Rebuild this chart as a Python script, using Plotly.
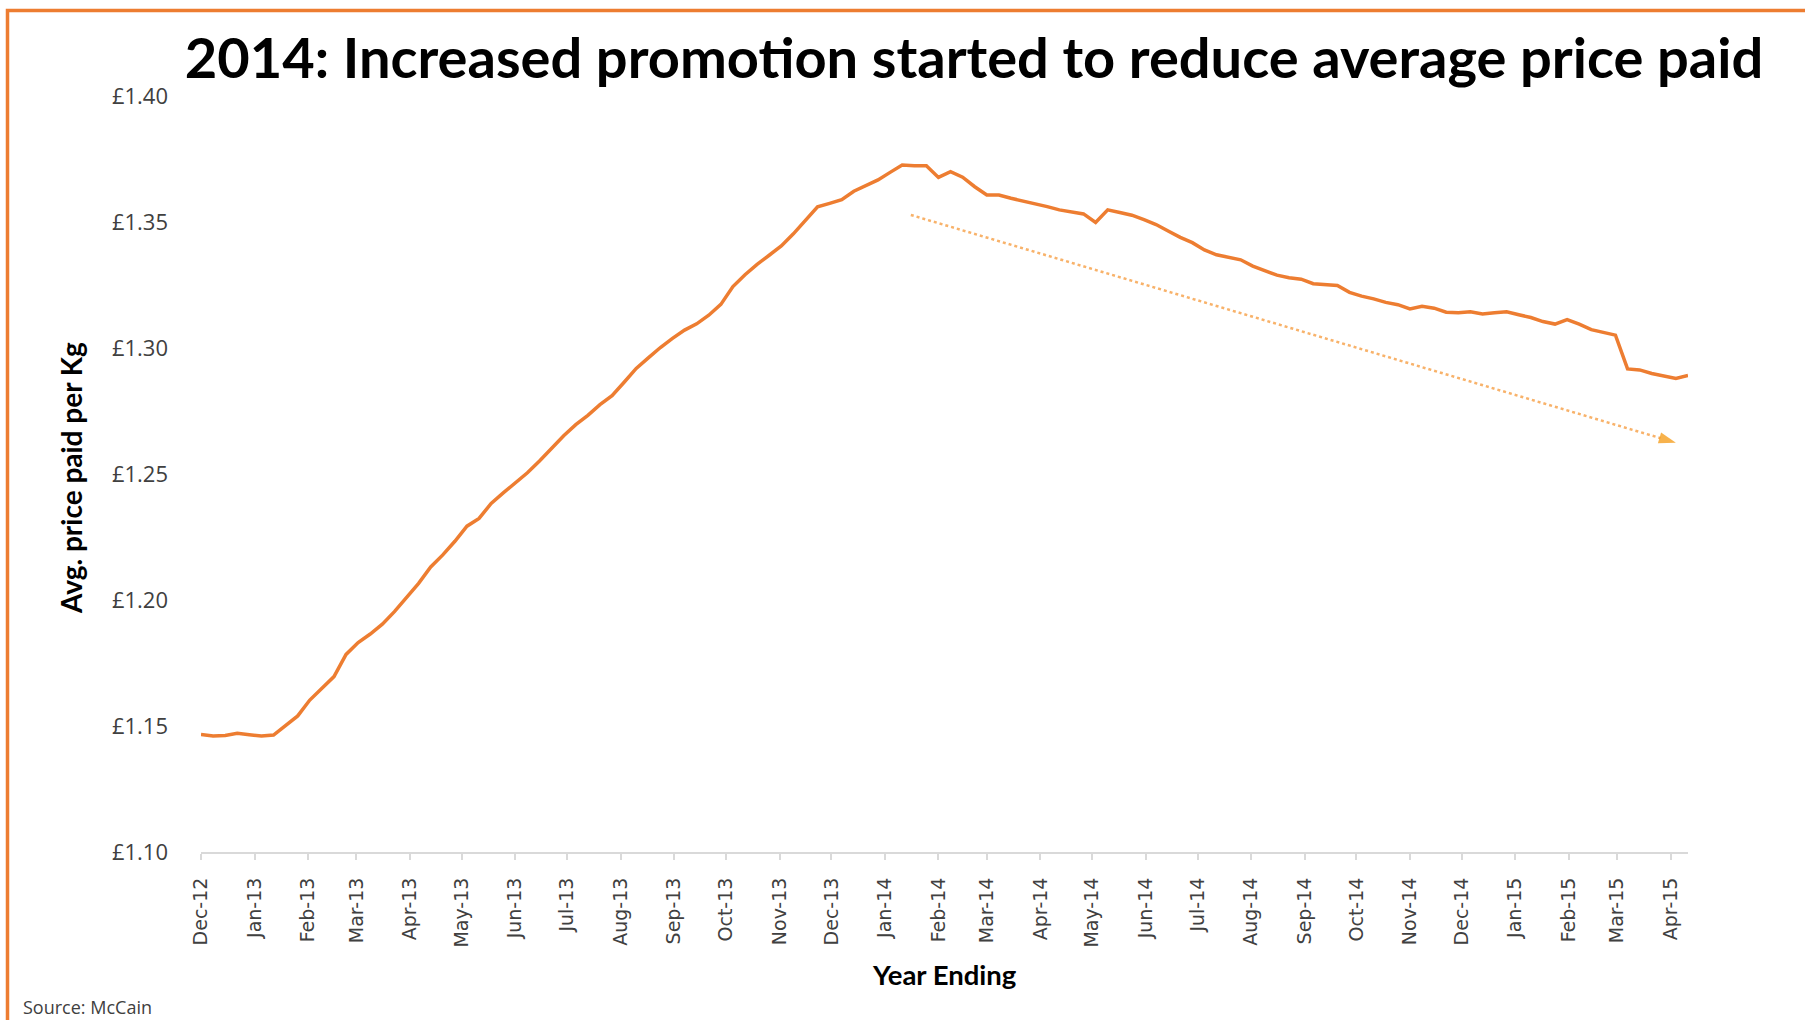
import pandas as pd
import plotly.graph_objects as go

# Weekly "year ending" series, Dec-2012 to Apr-2015
week_start = "2012-12-02"
n_weeks = 124
weeks = pd.date_range(week_start, periods=n_weeks, freq="7D")

avg_price = [
    1.1466, 1.1460, 1.1462, 1.1471, 1.1465, 1.1460, 1.1464, 1.1500, 1.1540, 1.1603,
    1.1648, 1.1696, 1.1784, 1.1831, 1.1865, 1.1904, 1.1954, 1.2008, 1.2066, 1.2131,
    1.2179, 1.2233, 1.2293, 1.2324, 1.2383, 1.2425, 1.2463, 1.2505, 1.2552, 1.2604,
    1.2652, 1.2696, 1.2733, 1.2775, 1.2811, 1.2864, 1.2919, 1.2961, 1.3002, 1.3038,
    1.3071, 1.3096, 1.3130, 1.3173, 1.3244, 1.3291, 1.3332, 1.3368, 1.3405, 1.3453,
    1.3504, 1.3560, 1.3574, 1.3589, 1.3622, 1.3645, 1.3667, 1.3697, 1.3726, 1.3723,
    1.3723, 1.3677, 1.3700, 1.3678, 1.3640, 1.3607, 1.3607, 1.3594, 1.3584, 1.3571,
    1.3561, 1.3548, 1.3540, 1.3532, 1.3498, 1.3548, 1.3538, 1.3527, 1.3509, 1.3490,
    1.3464, 1.3439, 1.3418, 1.3389, 1.3370, 1.3360, 1.3350, 1.3325, 1.3306, 1.3289,
    1.3279, 1.3273, 1.3255, 1.3253, 1.3248, 1.3221, 1.3206, 1.3195, 1.3181, 1.3172,
    1.3155, 1.3166, 1.3158, 1.3142, 1.3140, 1.3144, 1.3135, 1.3140, 1.3144, 1.3132,
    1.3121, 1.3105, 1.3095, 1.3113, 1.3095, 1.3073, 1.3062, 1.3051, 1.2917, 1.2913,
    1.2899, 1.2890, 1.2879, 1.2891,
]

# Trend arrow endpoints (date, price)
trend_dates = ["2014-01-17", "2015-04-05"]
trend_values = [1.3528, 1.2624]

y_ticks = [1.10, 1.15, 1.20, 1.25, 1.30, 1.35, 1.40]
y_tick_text = ["£%.2f" % v for v in y_ticks]

title_text = "2014: Increased promotion started to reduce average price paid"
y_title = "Avg. price paid per Kg"
x_title = "Year Ending"
source_text = "Source: McCain"

ORANGE = "#ED7D31"
TICK_GREY = "#404040"

fig = go.Figure()

fig.add_trace(go.Scatter(
    x=weeks, y=avg_price, mode="lines",
    line=dict(color=ORANGE, width=3.5),
    hoverinfo="skip", showlegend=False,
))

fig.add_trace(go.Scatter(
    x=trend_dates, y=trend_values, mode="lines+markers",
    line=dict(color="#F8B26A", width=2.5, dash="dot"),
    marker=dict(symbol="arrow", size=[0, 18], color="#F39200",
                angleref="previous", line=dict(width=0)),
    hoverinfo="skip", showlegend=False,
))

# Plot-area geometry in pixels
L, T, PW, PH = 201, 96, 1487, 756
W, H = 1805, 1020


def px(xp):
    return (xp - L) / PW


def py(yp):
    return (T + PH - yp) / PH


fig.update_layout(
    width=W, height=H,
    margin=dict(l=L, r=W - L - PW, t=T, b=H - T - PH, pad=0),
    paper_bgcolor="white", plot_bgcolor="white",
    title=dict(
        text=title_text, xref="container", yref="container",
        x=974 / W, y=1 - 58 / H, xanchor="center", yanchor="middle",
        font=dict(family="Lato", size=56, color="black", weight="bold"),
    ),
    xaxis=dict(
        type="date", range=[weeks[0], weeks[-1]],
        tick0=week_start, dtick="M1", tickformat="%b-%y", tickangle=-90,
        showgrid=False, zeroline=False,
        showline=True, linecolor="#d9d9d9", linewidth=2,
        ticks="outside", ticklen=6, tickcolor="#d9d9d9", tickwidth=1.5,
        ticklabelstandoff=10,
        tickfont=dict(family="DejaVu Sans", size=19, color=TICK_GREY),
    ),
    yaxis=dict(
        range=[1.10, 1.40], tickvals=y_ticks, ticktext=y_tick_text,
        showgrid=False, zeroline=False, showline=False, ticks="",
        ticklabelstandoff=32,
        tickfont=dict(family="Open Sans", size=22, color=TICK_GREY),
    ),
    annotations=[
        dict(text=y_title, xref="paper", yref="paper", x=px(71), y=py(478),
             xanchor="center", yanchor="middle", textangle=-90, showarrow=False,
             font=dict(family="Lato", size=28, color="black", weight="bold")),
        dict(text=x_title, xref="paper", yref="paper", x=px(945), y=py(974),
             xanchor="center", yanchor="middle", showarrow=False,
             font=dict(family="Lato", size=27.5, color="black", weight="bold")),
        dict(text=source_text, xref="paper", yref="paper", x=px(21), y=py(1007),
             xanchor="left", yanchor="middle", showarrow=False,
             font=dict(family="Open Sans", size=18, color=TICK_GREY)),
    ],
    shapes=[
        dict(type="rect", xref="paper", yref="paper",
             x0=px(7.5), x1=px(1815), y0=py(1030), y1=py(10.5),
             line=dict(color=ORANGE, width=3.5), fillcolor="rgba(0,0,0,0)",
             layer="below"),
    ],
)

fig.write_html("out.html")
